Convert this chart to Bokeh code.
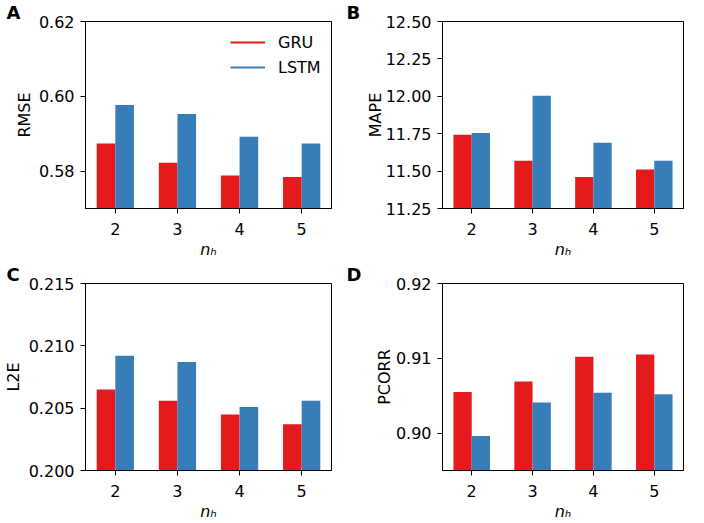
from bokeh.plotting import figure
from bokeh.layouts import gridplot
from bokeh.models import (ColumnDataSource, FixedTicker, NumeralTickFormatter,
                          Legend, LegendItem, Range1d, Title)
from bokeh.transform import dodge
from bokeh.embed import file_html
from bokeh.resources import INLINE

# ---- data ----
n_h = [2, 3, 4, 5]
rmse_gru = [0.5874, 0.5822, 0.5788, 0.5784]
rmse_lstm = [0.5977, 0.5953, 0.5892, 0.5874]
mape_gru = [11.743, 11.570, 11.460, 11.510]
mape_lstm = [11.754, 12.003, 11.690, 11.570]
l2e_gru = [0.2065, 0.2056, 0.2045, 0.2037]
l2e_lstm = [0.2092, 0.2087, 0.2051, 0.2056]
pcorr_gru = [0.9055, 0.9069, 0.9102, 0.9105]
pcorr_lstm = [0.8996, 0.9041, 0.9054, 0.9052]

rmse_ticks = [0.58, 0.60, 0.62]
mape_ticks = [11.25, 11.50, 11.75, 12.00, 12.25, 12.50]
l2e_ticks = [0.200, 0.205, 0.210, 0.215]
pcorr_ticks = [0.90, 0.91, 0.92]
x_ticks = [2, 3, 4, 5]
x_label = "n\u2095"

RED = "#e41a1c"
BLUE = "#377eb8"
FONT = "DejaVu Sans"


def panel(letter, ylab, gru, lstm, ylo, yhi, yticks, fmt, w, h, bl, br, bt, bb,
          lab_standoff, letter_dx, letter_standoff, legend=False):
    p = figure(width=w, height=h, x_range=Range1d(1.52, 5.48), y_range=Range1d(ylo, yhi),
               output_backend="svg", toolbar_location=None,
               min_border_left=bl, min_border_right=br, min_border_top=bt, min_border_bottom=bb)
    p.grid.visible = False
    p.outline_line_color = "black"
    p.outline_line_width = 1
    p.outline_line_alpha = 1
    src = ColumnDataSource(dict(n=n_h, gru=gru, lstm=lstm))
    p.vbar(x=dodge("n", -0.15), top="gru", bottom=0, width=0.3, fill_color=RED,
           line_color=None, source=src)
    p.vbar(x=dodge("n", 0.15), top="lstm", bottom=0, width=0.3, fill_color=BLUE,
           line_color=None, source=src)

    for ax in (p.xaxis[0], p.yaxis[0]):
        ax.axis_line_color = "black"
        ax.major_tick_line_color = "black"
        ax.major_tick_in = 0
        ax.major_tick_out = 5
        ax.minor_tick_line_color = None
        ax.major_label_text_font = FONT
        ax.major_label_text_font_size = "16px"
        ax.major_label_text_color = "black"
        ax.axis_label_text_font = FONT
        ax.axis_label_text_font_size = "16px"
        ax.axis_label_text_font_style = "normal"
        ax.axis_label_text_color = "black"
    p.xaxis.ticker = FixedTicker(ticks=x_ticks)
    p.xaxis.major_label_standoff = 9
    p.xaxis.axis_label = x_label
    p.xaxis.axis_label_text_font_style = "italic"
    p.xaxis.axis_label_standoff = 2
    p.yaxis.ticker = FixedTicker(ticks=yticks)
    p.yaxis.formatter = NumeralTickFormatter(format=fmt)
    p.yaxis.major_label_standoff = 6
    p.yaxis.axis_label = ylab
    p.yaxis.axis_label_standoff = lab_standoff

    # panel letter
    t = Title(text=letter, align="left", offset=-bl + letter_dx, standoff=letter_standoff,
              vertical_align="top", text_font=FONT, text_font_style="bold",
              text_font_size="18px", text_color="black")
    p.add_layout(t, "above")

    if legend:
        lg = p.line(x=[float("nan")], y=[float("nan")], line_color=RED, line_width=2)
        ll = p.line(x=[float("nan")], y=[float("nan")], line_color=BLUE, line_width=2)
        leg = Legend(items=[LegendItem(label="GRU", renderers=[lg]),
                            LegendItem(label="LSTM", renderers=[ll])],
                     location=(145, 131), border_line_alpha=0, background_fill_alpha=0,
                     padding=0, margin=0, spacing=5, glyph_width=35, glyph_height=20,
                     label_height=20, label_standoff=13, label_text_font=FONT,
                     label_text_font_size="16px", label_text_color="black")
        p.add_layout(leg)
    return p


pA = panel("A", "RMSE", rmse_gru, rmse_lstm, 0.57, 0.62, rmse_ticks, "0.00",
           344, 262, 79, 13, 21, 54, 2, 0, -6, legend=True)
pB = panel("B", "MAPE", mape_gru, mape_lstm, 11.25, 12.5, mape_ticks, "0.00",
           344, 262, 98, 5, 21, 54, -2, 2, -6)
pC = panel("C", "L2E", l2e_gru, l2e_lstm, 0.200, 0.215, l2e_ticks, "0.000",
           344, 261, 79, 13, 21, 53, 3, 0, -6)
pD = panel("D", "PCORR", pcorr_gru, pcorr_lstm, 0.895, 0.92, pcorr_ticks, "0.00",
           344, 261, 98, 5, 21, 53, -1, 2, -6)

grid = gridplot([[pA, pB], [pC, pD]], toolbar_location=None)

open("out.html", "w").write(file_html(grid, INLINE))
